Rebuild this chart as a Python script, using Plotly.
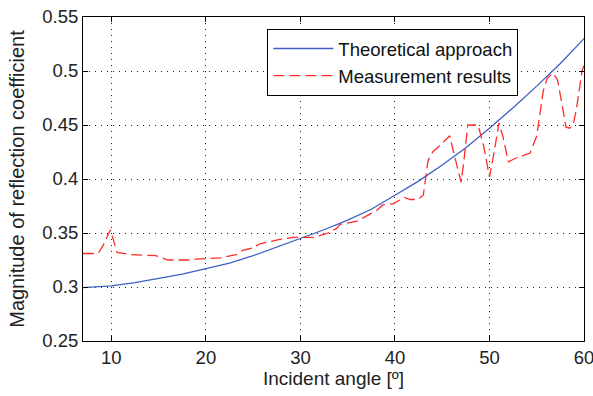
import plotly.graph_objects as go

# Theoretical approach (blue solid)
theory_angle = [7, 10, 12.5, 15, 17.5, 20, 22.5, 25, 27.5, 30, 32.5, 35, 37.5, 40,
                42.5, 45, 47.5, 50, 52.5, 55, 57.5, 60]
theory_mag = [0.2995, 0.301, 0.304, 0.308, 0.312, 0.317, 0.322, 0.329, 0.337, 0.345,
              0.353, 0.362, 0.372, 0.385, 0.398, 0.413, 0.429, 0.447, 0.466, 0.486,
              0.507, 0.530]

# Measurement results (red dashed)
meas_angle = [7.0, 8.6, 9.1, 9.9, 10.6, 12.0, 14.7, 16.0, 18.3, 19.3, 21.5, 22.5, 23.2,
              23.9, 24.9, 25.7, 27.1, 27.8, 29.2, 30.1, 31.5, 32.2, 32.9, 33.8, 34.2,
              36.0, 36.6, 38.1, 38.7, 39.8, 41.0, 41.6, 42.4, 43.0, 43.5, 44.0, 45.0,
              45.8, 46.2, 47.0, 47.3, 47.7, 48.8, 49.4, 50.0, 50.5, 51.0, 51.4, 52.0,
              52.7, 54.3, 55.0, 55.7, 56.1, 56.7, 57.2, 58.1, 58.5, 58.9, 59.2, 59.8, 60.0]
meas_mag = [0.331, 0.331, 0.338, 0.353, 0.332, 0.330, 0.329, 0.325, 0.325, 0.326, 0.327,
            0.329, 0.330, 0.334, 0.336, 0.340, 0.343, 0.344, 0.346, 0.346, 0.346, 0.348,
            0.350, 0.354, 0.358, 0.361, 0.364, 0.371, 0.376, 0.377, 0.383, 0.381, 0.381,
            0.385, 0.417, 0.425, 0.433, 0.440, 0.425, 0.397, 0.417, 0.450, 0.450, 0.430,
            0.402, 0.425, 0.452, 0.440, 0.416, 0.419, 0.424, 0.440, 0.482, 0.493, 0.498,
            0.492, 0.448, 0.447, 0.452, 0.465, 0.500, 0.505]

x_ticks = [10, 20, 30, 40, 50, 60]
y_ticks = [0.25, 0.3, 0.35, 0.4, 0.45, 0.5, 0.55]
y_tick_labels = ["0.25", "0.3", "0.35", "0.4", "0.45", "0.5", "0.55"]

FONT = "Liberation Sans, Arial, sans-serif"
TXT = "#222222"

fig = go.Figure()
fig.add_trace(go.Scatter(x=theory_angle, y=theory_mag, mode="lines",
                         name="Theoretical approach",
                         line=dict(color="#3d5fc4", width=1.3)))
fig.add_trace(go.Scatter(x=meas_angle, y=meas_mag, mode="lines",
                         name="Measurement results",
                         line=dict(color="#ff2a2a", width=1.3, dash="11px,5px")))

axis_common = dict(
    showline=True, linecolor="black", linewidth=1, mirror="ticks",
    ticks="inside", ticklen=5, tickcolor="black", tickwidth=1,
    showgrid=True, gridcolor="#222222", gridwidth=1, griddash="1px,5px",
    zeroline=False, automargin=False,
    tickfont=dict(family=FONT, size=18.5, color=TXT),
)

fig.update_xaxes(range=[7, 60], tickvals=x_ticks, ticklabeloverflow="allow",
                 title=dict(text="Incident angle [º]", standoff=4,
                            font=dict(family=FONT, size=19, color=TXT)),
                 **axis_common)
fig.update_yaxes(range=[0.25, 0.55], tickvals=y_ticks, ticktext=y_tick_labels,
                 title=dict(text="Magnitude of reflection coefficient", standoff=12,
                            font=dict(family=FONT, size=20, color=TXT)),
                 **axis_common)

fig.update_layout(
    width=593, height=396,
    margin=dict(l=83, r=9, t=17, b=55),
    paper_bgcolor="white", plot_bgcolor="white",
    showlegend=True,
    legend=dict(x=0.368, y=0.963, xanchor="left", yanchor="top",
                bgcolor="white", bordercolor="black", borderwidth=1,
                font=dict(family=FONT, size=18.5, color="#111111"),
                itemwidth=60, tracegroupgap=0),
)

fig.write_html("out.html", config={"displayModeBar": False},
               post_script="document.body.style.margin='0';document.body.style.overflow='hidden';")
